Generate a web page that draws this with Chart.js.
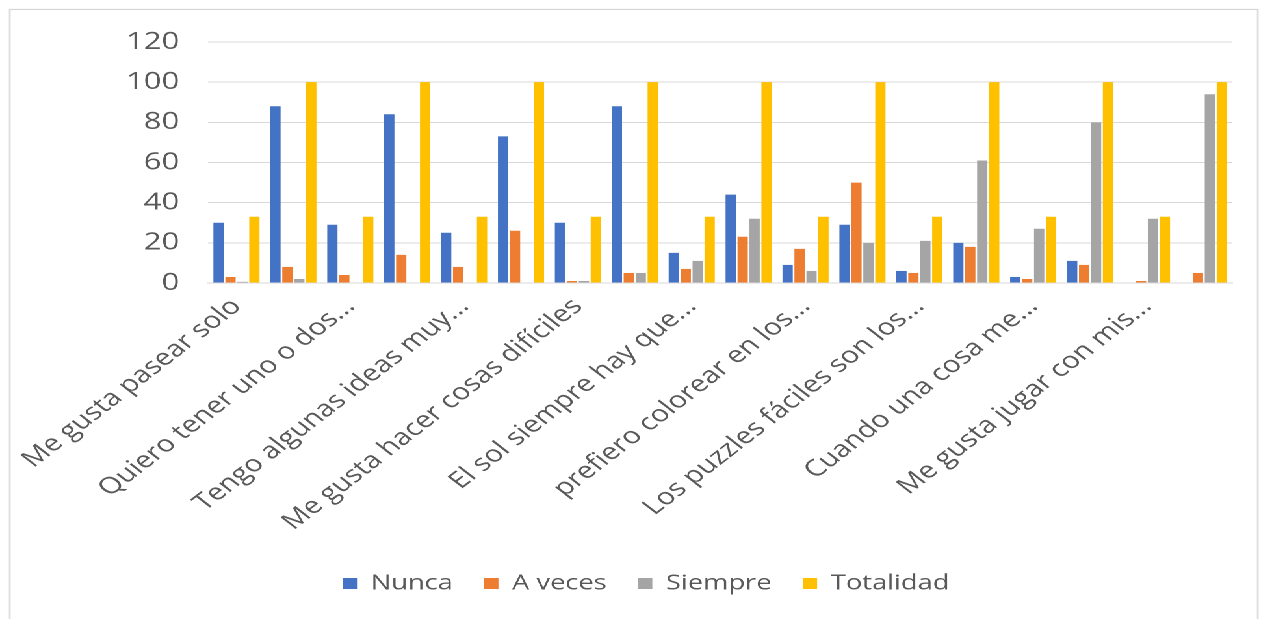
<!DOCTYPE html>
<html><head><meta charset="utf-8">
<script src="https://cdn.jsdelivr.net/npm/chart.js@4.4.1/dist/chart.umd.min.js"></script>
<style>
html,body{margin:0;padding:0;background:#fff;overflow:hidden;width:1269px;height:619px;}
#wrap{position:absolute;left:0;top:0;width:976px;height:619px;transform:scaleX(1.3);transform-origin:0 0;}
#frame{position:absolute;left:7px;top:9px;width:959px;height:660px;border:1px solid #d4d4d4;box-shadow:0 0 2px rgba(0,0,0,0.10);}
#cbox{position:absolute;left:0;top:0;width:976px;height:619px;}
</style></head>
<body>
<div id="wrap"><div id="frame"></div><div id="cbox"><canvas id="c"></canvas></div></div>
<script>
// Questions (each question shown once; the following unlabeled column is the percentage row)
const preguntas = [
  "Me gusta pasear solo",
  "Quiero tener uno o dos...",
  "Tengo algunas ideas muy...",
  "Me gusta hacer cosas difíciles",
  "El sol siempre hay que...",
  "prefiero colorear en los...",
  "Los puzzles fáciles son los...",
  "Cuando una cosa me...",
  "Me gusta jugar con mis..."
];
const categorias = [];
preguntas.forEach(p => { categorias.push(p); categorias.push(""); });

const nunca     = [30, 88, 29, 84, 25, 73, 30, 88, 15, 44, 9, 29, 6, 20, 3, 11, 0, 0];
const aVeces    = [3, 8, 4, 14, 8, 26, 1, 5, 7, 23, 17, 50, 5, 18, 2, 9, 1, 5];
const siempre   = [0.6, 2, 0, 0, 0, 0, 1, 5, 11, 32, 6, 20, 21, 61, 27, 80, 32, 94];
const totalidad = [33, 100, 33, 100, 33, 100, 33, 100, 33, 100, 33, 100, 33, 100, 33, 100, 33, 100];
const yTicks = [0, 20, 40, 60, 80, 100, 120];

const FONT = "'Open Sans', 'Liberation Sans', sans-serif";
const TXT = '#595959';

const legendShift = {
  id: 'legendShift',
  afterLayout(chart) {
    const lg = chart.legend;
    if (lg) { lg.left += 23; lg.right += 23; }
  }
};

new Chart(document.getElementById('c'), {
  type: 'bar',
  data: {
    labels: categorias,
    datasets: [
      { label: 'Nunca', data: nunca, backgroundColor: '#4472C4' },
      { label: 'A veces', data: aVeces, backgroundColor: '#ED7D31' },
      { label: 'Siempre', data: siempre, backgroundColor: '#A5A5A5' },
      { label: 'Totalidad', data: totalidad, backgroundColor: '#FFC000' }
    ]
  },
  plugins: [legendShift],
  options: {
    responsive: true,
    maintainAspectRatio: false,
    animation: false,
    devicePixelRatio: 2,
    datasets: { bar: { categoryPercentage: 0.84, barPercentage: 0.86, borderWidth: 0 } },
    layout: { padding: { top: 42, right: 28, bottom: 15, left: 0 } },
    plugins: {
      tooltip: { enabled: false },
      legend: {
        position: 'bottom',
        labels: {
          font: { family: FONT, size: 21 },
          color: TXT,
          boxWidth: 11,
          boxHeight: 11,
          padding: 24
        }
      }
    },
    scales: {
      x: {
        grid: { display: false, drawTicks: false },
        border: { display: true, color: '#d9d9d9' },
        afterFit: s => { s.height = 266; },
        ticks: {
          autoSkip: false,
          minRotation: 45,
          maxRotation: 45,
          padding: 10,
          color: TXT,
          font: { family: FONT, size: 23 }
        }
      },
      y: {
        min: 0, max: 120,
        afterFit: s => { s.width = 160; },
        afterBuildTicks: s => { s.ticks = yTicks.map(v => ({ value: v })); },
        grid: { color: '#d9d9d9', lineWidth: 1, drawTicks: false },
        border: { display: false },
        ticks: {
          padding: 22,
          color: TXT,
          font: { family: FONT, size: 24 }
        }
      }
    }
  }
});
</script>
</body></html>
